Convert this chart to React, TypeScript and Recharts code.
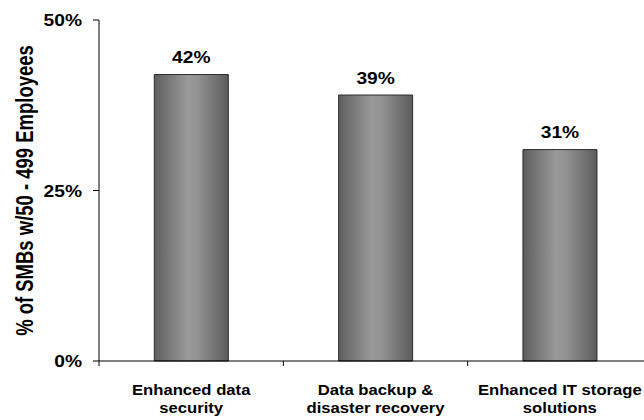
import { BarChart, Bar, XAxis, YAxis, LabelList } from "recharts";

const categories = ["Enhanced data\nsecurity", "Data backup &\ndisaster recovery", "Enhanced IT storage\nsolutions"];
const shares = [42, 39, 31];
const yTicks = [0, 25, 50];

const data = categories.map((name, i) => ({ name, value: shares[i] }));

const FONT = "'Liberation Sans', Arial, sans-serif";
const STRETCH = 1.2;

const YTick = (props: any) => {
  const { x, y, payload } = props;
  return (
    <g>
      <text
        transform={`translate(${x},${y + 6}) scale(${STRETCH},1)`}
        textAnchor="end"
        style={{ fontFamily: FONT, fontWeight: 700, fontSize: 16, fill: "#000" }}
      >
        {`${payload.value}%`}
      </text>
    </g>
  );
};

const XTick = (props: any) => {
  const { x, y, payload } = props;
  const half = payload.offset ?? 92;
  const lines = String(payload.value).split("\n");
  return (
    <g>
      <line x1={x - half} y1={y} x2={x - half} y2={y + 5} stroke="#000" strokeWidth={1} />
      {lines.map((line, i) => (
        <text
          key={i}
          transform={`translate(${x},${y + 34 + i * 18}) scale(1.15,1)`}
          textAnchor="middle"
          style={{ fontFamily: FONT, fontWeight: 700, fontSize: 14.5, fill: "#000" }}
        >
          {line}
        </text>
      ))}
    </g>
  );
};

const YLabel = (props: any) => {
  const vb = props.viewBox || {};
  const cy = (vb.y ?? 20) + (vb.height ?? 341) / 2;
  return (
    <text
      transform={`translate(${(vb.x ?? 0) + 25},${cy}) scale(1.3,1) rotate(-90)`}
      textAnchor="middle"
      dominantBaseline="central"
      style={{ fontFamily: FONT, fontWeight: 700, fontSize: 18.5, fill: "#000" }}
    >
      % of SMBs w/50 - 499 Employees
    </text>
  );
};

const ValueLabel = (props: any) => {
  const { x, y, width, value } = props;
  return (
    <text
      transform={`translate(${x + width / 2},${y - 11.5}) scale(${STRETCH},1)`}
      textAnchor="middle"
      style={{ fontFamily: FONT, fontWeight: 700, fontSize: 16, fill: "#000" }}
    >
      {`${value}%`}
    </text>
  );
};

export default function App() {
  return (
    <div style={{ position: "absolute", left: 0, top: 0, width: 644, height: 420, overflow: "hidden", background: "#fff" }}>
      <BarChart
        width={660}
        height={420}
        data={data}
        margin={{ top: 20, right: 8, left: 0, bottom: 0 }}
        barCategoryGap="30%"
      >
        <defs>
          <linearGradient id="barGrad" x1="0" y1="0" x2="1" y2="0">
            <stop offset="0%" stopColor="#5e5e5e" />
            <stop offset="45%" stopColor="#9a9a9a" />
            <stop offset="58%" stopColor="#929292" />
            <stop offset="88%" stopColor="#6c6c6c" />
            <stop offset="100%" stopColor="#5a5a5a" />
          </linearGradient>
        </defs>
        <XAxis
          dataKey="name"
          height={59}
          axisLine={{ stroke: "#000", strokeWidth: 1 }}
          tickLine={false}
          tickSize={0}
          tickMargin={0}
          tick={<XTick />}
          interval={0}
        />
        <YAxis
          width={99}
          domain={[0, 50]}
          ticks={yTicks}
          interval={0}
          axisLine={{ stroke: "#000", strokeWidth: 1 }}
          tickLine={{ stroke: "#000", strokeWidth: 1 }}
          tickSize={6}
          tickMargin={11}
          tick={<YTick />}
          label={{ content: <YLabel /> }}
        />
        <Bar dataKey="value" fill="url(#barGrad)" stroke="#2b2b2b" strokeWidth={1} isAnimationActive={false}>
          <LabelList dataKey="value" content={<ValueLabel />} />
        </Bar>
      </BarChart>
    </div>
  );
}
